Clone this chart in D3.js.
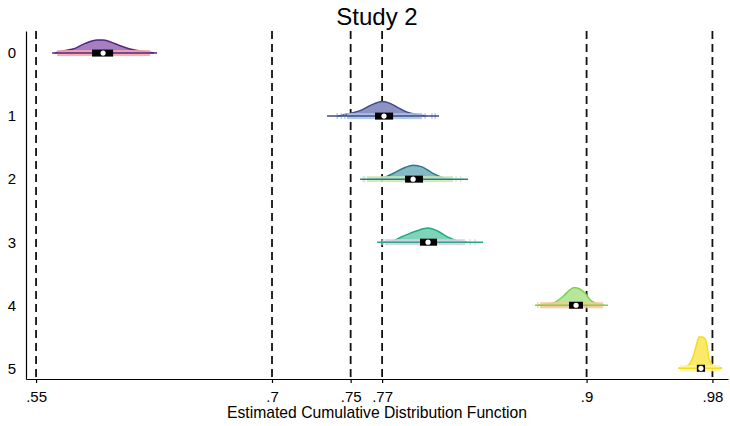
<!DOCTYPE html>
<html>
<head>
<meta charset="utf-8">
<script src="https://cdn.jsdelivr.net/npm/d3@7/dist/d3.min.js"></script>
<style>
  html, body { margin: 0; padding: 0; background: #fff; }
  svg { display: block; font-family: "Liberation Sans", Arial, Helvetica, sans-serif; }
</style>
</head>
<body>
<svg id="chart" width="730" height="426"></svg>
<script>
// Groups (rows) and reference lines
const groups = [0, 1, 2, 3, 4, 5];
const refLines = [0.55, 0.70, 0.75, 0.77, 0.90, 0.98];
const xTicks = [0.55, 0.70, 0.75, 0.77, 0.90, 0.98];

// Distribution summaries per group
const whiskerLo = [0.5602, 0.7350, 0.7560, 0.7668, 0.8672, 0.9588];
const whiskerHi = [0.6269, 0.8062, 0.8246, 0.8342, 0.9136, 0.9861];
const q1        = [0.5856, 0.7655, 0.7846, 0.7941, 0.8888, 0.9701];
const q3        = [0.5990, 0.7770, 0.7960, 0.8049, 0.8977, 0.9753];
const medians   = [0.5926, 0.7712, 0.7897, 0.7992, 0.8933, 0.9727];

// Extent of the dense cloud of individual estimates, plus scattered stragglers
const cloudLo = [0.5634, 0.7477, 0.7604, 0.7719, 0.8704, 0.9594];
const cloudHi = [0.6225, 0.7954, 0.8151, 0.8227, 0.9105, 0.9849];
const stragglers = [
  [],
  [0.7414, 0.7440, 0.7464, 0.7973, 0.8017, 0.8037],
  [0.7580, 0.7590, 0.8170, 0.8200],
  [0.7700, 0.7710, 0.8259, 0.8291],
  [0.8690],
  []
];

// Kernel density profiles: evaluation points and density values
const densX = [
  [0.5621, 0.5665, 0.5735, 0.5812, 0.5888, 0.5926, 0.5970, 0.6034, 0.6098, 0.6161, 0.6212, 0.6250],
  [0.7420, 0.7477, 0.7560, 0.7630, 0.7700, 0.7738, 0.7795, 0.7859, 0.7922, 0.7979],
  [0.7649, 0.7700, 0.7770, 0.7846, 0.7897, 0.7954, 0.8017, 0.8081, 0.8145],
  [0.7700, 0.7763, 0.7833, 0.7922, 0.7992, 0.8056, 0.8119, 0.8176, 0.8240],
  [0.8691, 0.8742, 0.8787, 0.8850, 0.8895, 0.8920, 0.8946, 0.8990, 0.9022, 0.9054, 0.9111],
  [0.9581, 0.9644, 0.9676, 0.9701, 0.9714, 0.9734, 0.9753, 0.9765, 0.9778, 0.9803, 0.9861]
];
const densY = [
  [0, 5.7, 11.4, 27.7, 37.1, 37.1, 32.3, 20.9, 11.4, 5.7, 2.9, 0],
  [0, 5.7, 15.7, 31.4, 41.4, 38.6, 25.7, 11.4, 4.3, 0],
  [0, 2.9, 16.3, 33.4, 40.0, 35.1, 18.0, 4.9, 0],
  [0, 2.9, 17.1, 32.9, 40.6, 31.4, 14.3, 4.3, 0],
  [0, 2.9, 6.3, 25.1, 44.3, 50.9, 48.6, 34.9, 15.7, 6.3, 0],
  [0, 8.6, 32.3, 70.6, 89.4, 89.4, 84.9, 65.7, 27.7, 8.6, 0]
];

// Palette
const lineColors  = ["#5a2585", "#3e4a89", "#2b7a8c", "#24aa83", "#7cd250", "#f5dc1c"];
const fillColors  = ["#a67fc2", "#8c93c4", "#86b9c4", "#7fd3b8", "#b8e79c", "#fbe96a"];
const cloudColors = ["#f5a7a8", "#a8c2e4", "#cbe7b8", "#dccbe8", "#f9c895", "#fff3a6"];

const svg = d3.select("#chart");
const W = 730, H = 426;
const margin = { left: 26, right: 2, top: 31, bottom: 47 };

const x = d3.scaleLinear()
  .domain([0.5436, 0.9899])
  .range([margin.left, W - margin.right]);

const y = d3.scaleLinear()
  .domain([-0.35, 5.17])
  .range([margin.top, H - margin.bottom]);

// density value -> pixel height
const dScale = d3.scaleLinear().domain([0, 100]).range([0, 35]);

// Title
svg.append("text")
  .attr("x", (margin.left + W - margin.right) / 2)
  .attr("y", 25)
  .attr("text-anchor", "middle")
  .attr("font-size", 24)
  .attr("fill", "#000")
  .text("Study 2");

// Dashed reference lines
svg.append("g").selectAll("line")
  .data(refLines)
  .join("line")
  .attr("x1", d => x(d)).attr("x2", d => x(d))
  .attr("y1", y.range()[0]).attr("y2", y.range()[1])
  .attr("stroke", "#111")
  .attr("stroke-width", 1.8)
  .attr("stroke-dasharray", "8,5");

// One raincloud per group
const rows = svg.append("g").selectAll("g")
  .data(groups)
  .join("g");

rows.each(function (g, i) {
  const row = d3.select(this);
  const base = y(g);
  const pts = densX[i].map((v, k) => [v, densY[i][k]]);

  const area = d3.area()
    .x(d => x(d[0]))
    .y0(base)
    .y1(d => base - dScale(d[1]))
    .curve(d3.curveMonotoneX);
  const top = d3.line()
    .x(d => x(d[0]))
    .y(d => base - dScale(d[1]))
    .curve(d3.curveMonotoneX);

  row.append("path")
    .attr("d", area(pts))
    .attr("fill", fillColors[i]);
  row.append("path")
    .attr("d", top(pts))
    .attr("fill", "none")
    .attr("stroke", lineColors[i])
    .attr("stroke-width", 1.5);

  // cloud of individual estimates
  row.append("rect")
    .attr("x", x(cloudLo[i]))
    .attr("width", x(cloudHi[i]) - x(cloudLo[i]))
    .attr("y", base - 3)
    .attr("height", 6)
    .attr("fill", cloudColors[i])
    .attr("opacity", 0.9);
  row.selectAll("line.str")
    .data(stragglers[i])
    .join("line")
    .attr("class", "str")
    .attr("x1", d => x(d)).attr("x2", d => x(d))
    .attr("y1", base - 3).attr("y2", base + 3)
    .attr("stroke", cloudColors[i])
    .attr("stroke-width", 1.2);

  // whisker / range line
  row.append("line")
    .attr("x1", x(whiskerLo[i])).attr("x2", x(whiskerHi[i]))
    .attr("y1", base).attr("y2", base)
    .attr("stroke", lineColors[i])
    .attr("stroke-width", 1.5);

  // interquartile box and median
  row.append("rect")
    .attr("x", x(q1[i]))
    .attr("width", x(q3[i]) - x(q1[i]))
    .attr("y", base - 3.5)
    .attr("height", 7)
    .attr("fill", "#000");
  row.append("circle")
    .attr("cx", x(medians[i]))
    .attr("cy", base)
    .attr("r", 2.6)
    .attr("fill", "#fff");
});

// Axes
const fmt = d => String(d).replace(/^0/, "");
const xAxis = svg.append("g")
  .attr("transform", `translate(0,${y.range()[1]})`)
  .call(d3.axisBottom(x).tickValues(xTicks).tickFormat(fmt).tickSize(4).tickPadding(8).tickSizeOuter(0));
xAxis.attr("font-family", null).attr("font-size", 15);
xAxis.selectAll("text").attr("fill", "#000");
xAxis.select(".domain").attr("stroke", "#000").attr("stroke-width", 1.2);
xAxis.selectAll(".tick line").attr("stroke", "#000").attr("stroke-width", 1.2);

const yAxis = svg.append("g")
  .attr("transform", `translate(${margin.left},0)`)
  .call(d3.axisLeft(y).tickValues(groups).tickFormat(d3.format("d")).tickSize(0).tickPadding(10).tickSizeOuter(0));
yAxis.attr("font-family", null).attr("font-size", 15);
yAxis.selectAll("text").attr("fill", "#000");
yAxis.select(".domain").attr("stroke", "#000").attr("stroke-width", 1.2);

// Axis title
svg.append("text")
  .attr("x", (margin.left + W - margin.right) / 2)
  .attr("y", 418)
  .attr("text-anchor", "middle")
  .attr("font-size", 15.7)
  .attr("fill", "#000")
  .text("Estimated Cumulative Distribution Function");
</script>
</body>
</html>
